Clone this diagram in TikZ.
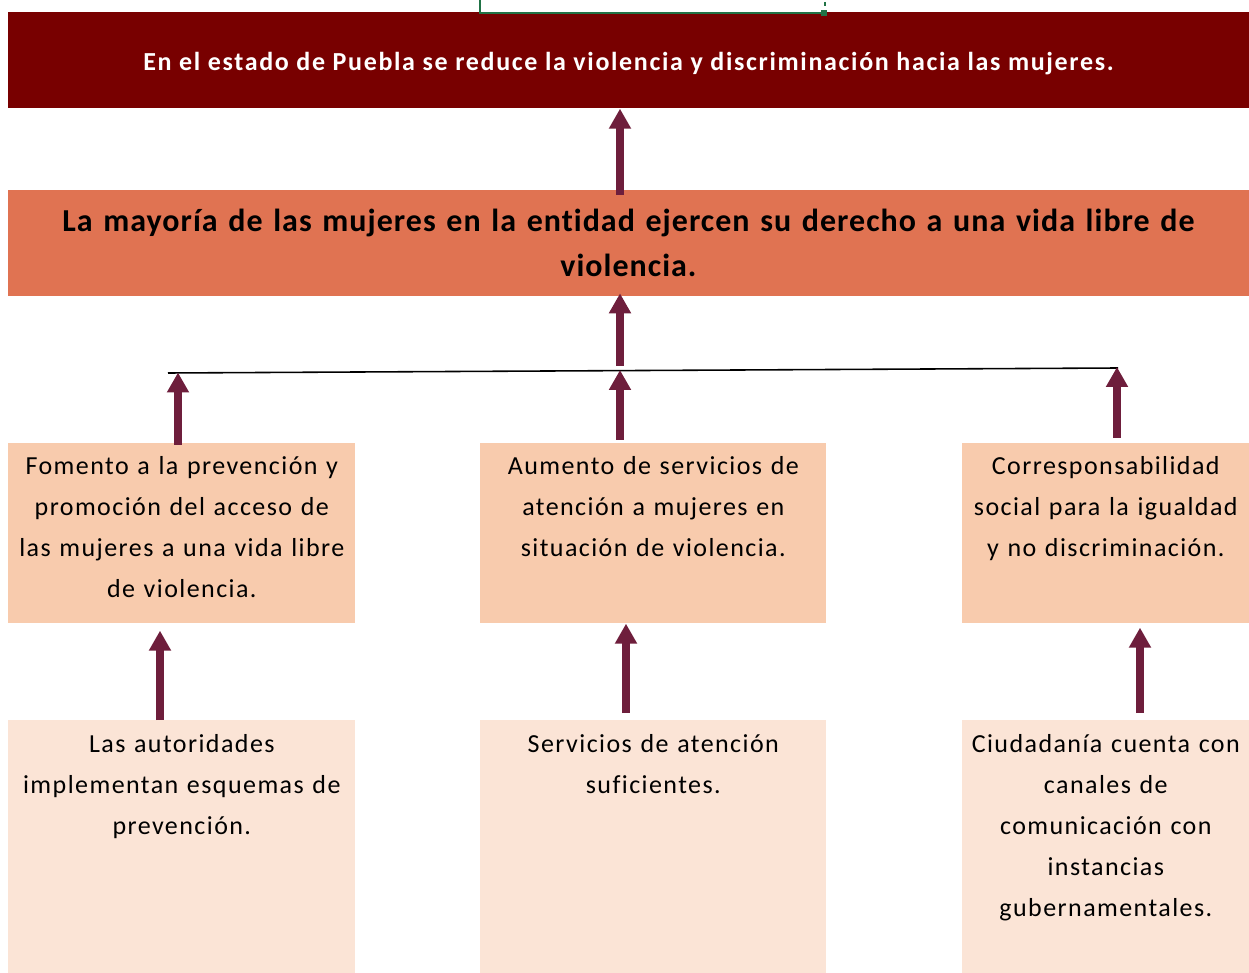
\documentclass[tikz,border=0pt]{standalone}
\usepackage{fontspec}
\setmainfont{Carlito}
\newfontfamily\letrafin{Carlito}[LetterSpace=6.4, Ligatures=NoCommon]
\newfontfamily\letraprop{Carlito}[LetterSpace=3.2, Ligatures=NoCommon]
\newfontfamily\letracaja{Carlito}[LetterSpace=5.5, Ligatures=NoCommon]
\usetikzlibrary{arrows.meta}
\definecolor{vino}{RGB}{120,0,0}
\definecolor{naranja}{RGB}{224,115,82}
\definecolor{durazno}{RGB}{248,203,173}
\definecolor{rosado}{RGB}{251,228,214}
\definecolor{flecha}{RGB}{110,30,60}
\definecolor{excel}{RGB}{33,115,70}
\tikzset{
    fin/.style={rectangle, fill=vino, text=white, inner sep=0, anchor=north, minimum width=24.82cm, text height=1.16cm, text depth=0.76cm, font=\letrafin\fontsize{14.8}{17}\selectfont\bfseries},
    proposito/.style={rectangle, fill=naranja, inner sep=0, text width=24.82cm, align=center, minimum height=2.12cm, font=\letraprop\fontsize{18.2}{25.5}\selectfont\bfseries},
    componente/.style={rectangle, fill=durazno, inner sep=0, anchor=north west, align=center, text height=0.62cm, text depth=2.98cm, font=\letracaja\fontsize{14.8}{23.3}\selectfont},
    actividad/.style={rectangle, fill=rosado, inner sep=0, anchor=north west, align=center, text height=0.64cm, text depth=4.42cm, font=\letracaja\fontsize{14.8}{23.3}\selectfont},
    sube/.style={draw=flecha, line width=4pt, -{Triangle[length=0.4cm,width=0.42cm]}}
}
\begin{document}
\begin{tikzpicture}[x=0.02cm, y=-0.02cm]
    \useasboundingbox (0,0) rectangle (1249,973);
    % fin y proposito
    \node[fin] (fin) at (628.5,12) {En el estado de Puebla se reduce la violencia y discriminación hacia las mujeres.};
    \node[proposito] (prop) at (628.5,243) {La mayoría de las mujeres en la entidad ejercen su derecho a una vida libre de\\violencia.};
    % seleccion de la hoja
    \draw[excel, line width=1.6pt] (480,0) -- (480,13) -- (822,13);
    \fill[excel] (821,10) rectangle (827,16);
    \draw[excel, line width=1.6pt] (825,2) -- (825,6);
    % componentes
    \node[componente, text width=6.94cm] (comp1) at (8,443) {Fomento a la prevención y\\promoción del acceso de\\las mujeres a una vida libre\\de violencia.};
    \node[componente, text width=6.92cm] (comp2) at (480,443) {Aumento de servicios de\\atención a mujeres en\\situación de violencia.};
    \node[componente, text width=5.74cm] (comp3) at (962,443) {Corresponsabilidad\\social para la igualdad\\y no discriminación.};
    % actividades
    \node[actividad, text width=6.94cm] (act1) at (8,720) {Las autoridades\\implementan esquemas de\\prevención.};
    \node[actividad, text width=6.92cm] (act2) at (480,720) {Servicios de atención\\suficientes.};
    \node[actividad, text width=5.74cm] (act3) at (962,720) {Ciudadanía cuenta con\\canales de\\comunicación con\\instancias\\gubernamentales.};
    % linea que une los componentes
    \coordinate (izq) at (168,373);
    \coordinate (der) at (1118,368);
    \draw[line width=0.9pt] (izq) -- (der);
    % flechas
    \draw[sube] ([yshift=-0.1cm]620,0 |- prop.north) -- (620,0 |- fin.south);
    \draw[sube] (620,366) -- ([yshift=0.06cm]620,0 |- prop.south);
    \draw[sube] ([yshift=-0.04cm]178,0 |- comp1.north) -- (178,372.5);
    \draw[sube] ([yshift=0.06cm]620,0 |- comp2.north) -- (620,370);
    \draw[sube] ([yshift=0.1cm]1117,0 |- comp3.north) -- (1117,367);
    \draw[sube] (160,0 |- act1.north) -- ([yshift=-0.14cm]160,0 |- comp1.south);
    \draw[sube] ([yshift=0.14cm]626,0 |- act2.north) -- (626,0 |- comp2.south);
    \draw[sube] ([yshift=0.14cm]1140,0 |- act3.north) -- ([yshift=-0.08cm]1140,0 |- comp3.south);
\end{tikzpicture}
\end{document}
